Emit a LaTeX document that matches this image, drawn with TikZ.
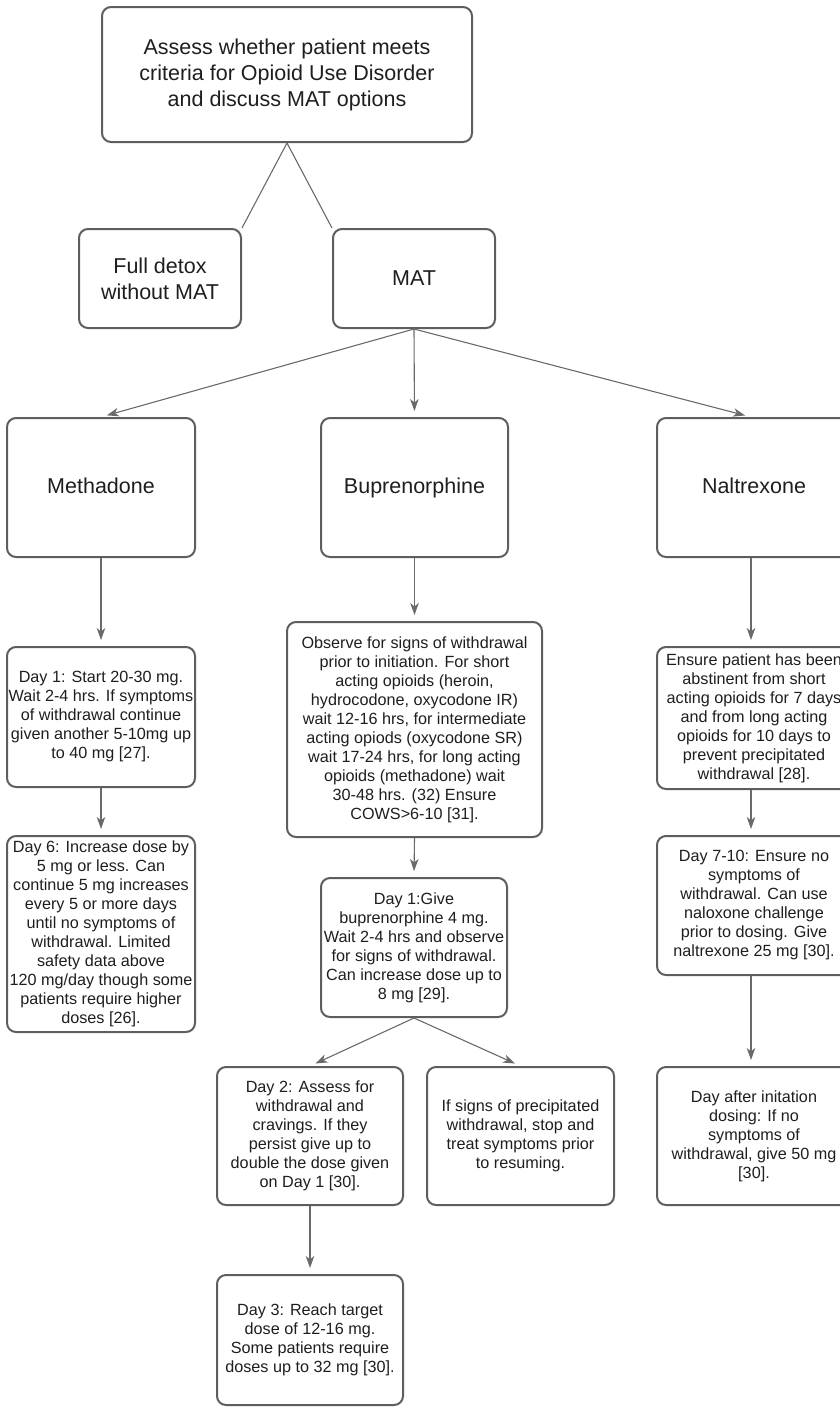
\documentclass[tikz,border=0pt]{standalone}
\usepackage{fontspec}
\setmainfont{Liberation Sans}
\usetikzlibrary{arrows.meta}
\definecolor{boxgray}{HTML}{5E5E5E}
\definecolor{linegray}{HTML}{6A6A6A}
\definecolor{txt}{HTML}{1E1E1E}
\begin{document}
\begin{tikzpicture}[x=1pt,y=-1pt,
  box/.style={draw=boxgray, line width=2pt, rounded corners=9pt, rectangle, align=center, inner sep=0pt, text=txt},
  big/.style={font=\fontsize{21.5}{26}\selectfont},
  small/.style={font=\fontsize{16.2}{19}\selectfont},
  drug/.style={box, big, minimum height=139pt, text height=15.5pt, text depth=4.5pt},
  link/.style={draw=linegray, line width=1.1pt},
  arr/.style={link, -{Stealth[length=12pt,width=8.5pt,inset=3.5pt]}, shorten >=6pt}]
\useasboundingbox (0,0) rectangle (839,1409);
% row 0-1
\node[box,big,minimum width=370pt,minimum height=135pt] (top) at (287,74.5) {Assess whether patient meets\\criteria for Opioid Use Disorder\\and discuss MAT options};
\node[box,big,minimum width=162pt,minimum height=99pt] (detox) at (160,278.5) {Full detox\\without MAT};
\node[box,big,minimum width=162pt,minimum height=99pt] (mat) at (414,278.5) {MAT};
% row 2
\node[drug,minimum width=188pt] (meth) at (101,487.5) {Methadone};
\node[drug,minimum width=187pt] (bup) at (414.5,487.5) {Buprenorphine};
\node[drug,minimum width=194pt] (nal) at (754,487.5) {Naltrexone};
% methadone column
\node[box,small,minimum width=188pt,minimum height=140pt] (mday1) at (101,717) {Day 1: Start 20-30 mg.\\Wait 2-4 hrs. If symptoms\\of withdrawal continue\\given another 5-10mg up\\to 40 mg [27].};
\node[box,small,minimum width=188pt,minimum height=196pt] (mday6) at (101,934) {Day 6: Increase dose by\\5 mg or less. Can\\continue 5 mg increases\\every 5 or more days\\until no symptoms of\\withdrawal. Limited\\safety data above\\120 mg/day though some\\patients require higher\\doses [26].};
% buprenorphine column
\node[box,small,minimum width=255pt,minimum height=215pt] (obs) at (414.5,729.5) {Observe for signs of withdrawal\\prior to initiation. For short\\acting opioids (heroin,\\hydrocodone, oxycodone IR)\\wait 12-16 hrs, for intermediate\\acting opiods (oxycodone SR)\\wait 17-24 hrs, for long acting\\opioids (methadone) wait\\30-48 hrs. (32) Ensure\\COWS>6-10 [31].};
\node[box,small,minimum width=186pt,minimum height=139pt] (bday1) at (414,947.5) {Day 1:Give\\buprenorphine 4 mg.\\Wait 2-4 hrs and observe\\for signs of withdrawal.\\Can increase dose up to\\8 mg [29].};
\node[box,small,minimum width=186pt,minimum height=138pt] (bday2) at (310,1136) {Day 2: Assess for\\withdrawal and\\cravings. If they\\persist give up to\\double the dose given\\on Day 1 [30].};
\node[box,small,minimum width=187pt,minimum height=138pt] (signs) at (520.5,1136) {If signs of precipitated\\withdrawal, stop and\\treat symptoms prior\\to resuming.};
\node[box,small,minimum width=186pt,minimum height=130pt] (bday3) at (310,1340) {Day 3: Reach target\\dose of 12-16 mg.\\Some patients require\\doses up to 32 mg [30].};
% naltrexone column
\node[box,small,minimum width=194pt,minimum height=142pt] (ensure) at (754,718) {Ensure patient has been\\abstinent from short\\acting opioids for 7 days\\and from long acting\\opioids for 10 days to\\prevent precipitated\\withdrawal [28].};
\node[box,small,minimum width=194pt,minimum height=139pt] (nday7) at (754,905.5) {Day 7-10: Ensure no\\symptoms of\\withdrawal. Can use\\naloxone challenge\\prior to dosing. Give\\naltrexone 25 mg [30].};
\node[box,small,minimum width=194pt,minimum height=138pt] (nafter) at (754,1136) {Day after initation\\dosing: If no\\symptoms of\\withdrawal, give 50 mg\\{}[30].};
% connectors
\draw[link] (top.south) -- (detox.north east);
\draw[link] (top.south) -- (mat.north west);
\draw[arr] (mat.south) -- (meth.north);
\draw[arr] (mat.south) -- (bup.north);
\draw[arr] (mat.south) -- ([xshift=-3pt]nal.north);
\draw[arr] (meth.south) -- (mday1.north);
\draw[arr] (mday1.south) -- (mday6.north);
\draw[arr] (bup.south) -- (obs.north);
\draw[arr] (obs.south) -- (bday1.north);
\draw[arr] (bday1.south) -- (bday2.north);
\draw[arr] (bday1.south) -- (signs.north);
\draw[arr] (bday2.south) -- (bday3.north);
\draw[arr] ([xshift=-3pt]nal.south) -- ([xshift=-3pt]ensure.north);
\draw[arr] ([xshift=-3pt]ensure.south) -- ([xshift=-3pt]nday7.north);
\draw[arr] ([xshift=-3pt]nday7.south) -- ([xshift=-3pt]nafter.north);
\end{tikzpicture}
\end{document}
